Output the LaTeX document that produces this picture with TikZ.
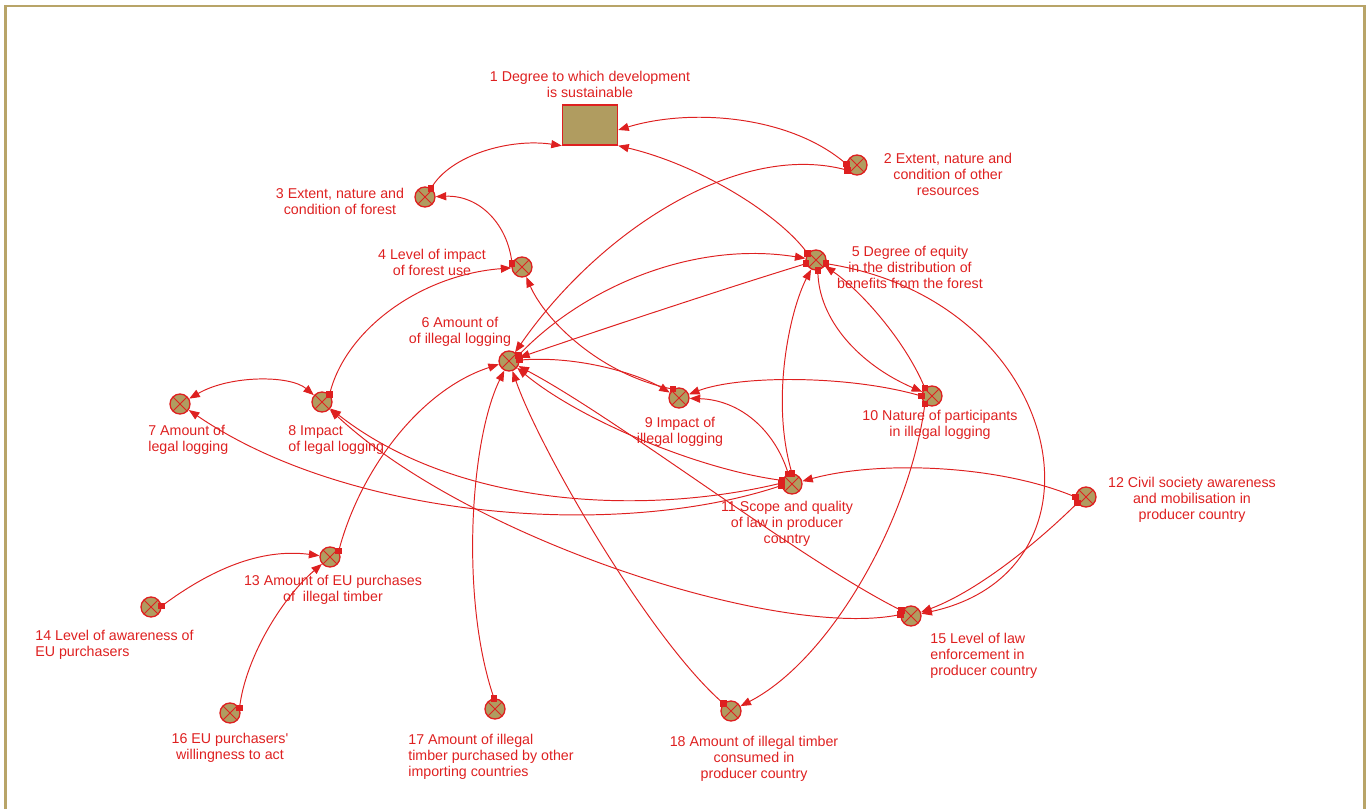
\documentclass[tikz,border=0pt]{standalone}
\usepackage{fontspec}
\setmainfont{Liberation Sans}
\usetikzlibrary{arrows.meta}
\definecolor{lred}{RGB}{222,32,32}
\definecolor{vfill}{RGB}{176,156,96}
\definecolor{framec}{RGB}{184,164,104}
\newcommand{\srcsq}[1]{\fill[lred] (#1) ++(-3.3,-3.3) rectangle ++(6.6,6.6);}
\begin{document}
\begin{tikzpicture}[x=0.02cm,y=-0.02cm,
 var/.style={circle,draw=lred,fill=vfill,line width=0.75pt,minimum size=0.4cm,inner sep=0pt,
   path picture={\draw[lred,line width=0.5pt] (path picture bounding box.north west)--(path picture bounding box.south east) (path picture bounding box.north east)--(path picture bounding box.south west);}},
 stock/.style={rectangle,draw=lred,fill=vfill,line width=0.8pt,minimum width=1.1cm,minimum height=0.8cm,inner sep=0pt},
 lbl/.style={text=lred,font=\fontsize{8.1}{9.1}\selectfont,align=center,inner sep=0pt},
 conn/.style={draw=lred,line width=0.55pt,-{Triangle[length=6pt,width=4.6pt]}},
 biconn/.style={draw=lred,line width=0.55pt,{Triangle[length=6pt,width=4.6pt]}-{Triangle[length=6pt,width=4.6pt]}}
]
\useasboundingbox (0,0) rectangle (1370,809);
\draw[framec,line width=1.3pt] (5.5,809) -- (5.5,6) -- (1364.5,6) -- (1364.5,809);

% nodes
\node[stock] (n1) at (590,125) {};
\node[var] (n2) at (857,165) {};
\node[var] (n3) at (425,197) {};
\node[var] (n4) at (522,267) {};
\node[var] (n5) at (816,260) {};
\node[var] (n6) at (509,361) {};
\node[var] (n7) at (180,404) {};
\node[var] (n8) at (322,402) {};
\node[var] (n9) at (679,398) {};
\node[var] (n10) at (932,396) {};
\node[var] (n11) at (792,484) {};
\node[var] (n12) at (1086,497) {};
\node[var] (n13) at (330,557) {};
\node[var] (n14) at (151,607) {};
\node[var] (n15) at (911,616) {};
\node[var] (n16) at (230,713) {};
\node[var] (n17) at (495,709) {};
\node[var] (n18) at (731,711) {};

% labels
\node[lbl] (l1) at (590,84) {1 Degree to which development\\is sustainable};
\node[lbl] (l2) at (948,174) {2 Extent, nature and\\condition of other\\resources};
\node[lbl] (l3) at (340,201) {3 Extent, nature and\\condition of forest};
\node[lbl] (l4) at (432,262) {4 Level of impact\\of forest use};
\node[lbl] (l5) at (910,267) {5 Degree of equity\\in the distribution of\\benefits from the forest};
\node[lbl] (l6) at (460,332) {6 Amount of\\of illegal logging};
\node[lbl,anchor=west,align=left] (l7) at (148,440) {7 Amount of\\legal logging};
\node[lbl,anchor=west,align=left] (l8) at (288,440) {8 Impact\\of legal logging};
\node[lbl] (l9) at (680,432) {9 Impact of\\illegal logging};
\node[lbl] (l10) at (940,425) {10 Nature of participants\\in illegal logging};
\node[lbl] (l11) at (787,524) {11 Scope and quality\\of law in producer\\country};
\node[lbl] (l12) at (1192,500) {12 Civil society awareness\\and mobilisation in\\producer country};
\node[lbl] (l13) at (333,590) {13 Amount of EU purchases\\of~ illegal timber};
\node[lbl,anchor=west,align=left] (l14) at (35,645) {14 Level of awareness of\\EU purchasers};
\node[lbl,anchor=west,align=left] (l15) at (930,656) {15 Level of law\\enforcement in\\producer country};
\node[lbl] (l16) at (230,748) {16 EU purchasers\textquotesingle\\willingness to act};
\node[lbl,anchor=west,align=left] (l17) at (408,757) {17 Amount of illegal\\timber purchased by other\\importing countries};
\node[lbl] (l18) at (754,759) {18 Amount of illegal timber\\consumed in\\producer country};

% connectors
\draw[conn] (n3.55) .. controls (450,155) and (510,138) .. (n1.south west);
\draw[conn] (n2.175) .. controls (790,115) and (690,108) .. (n1.-10);
\draw[conn] (n4.160) .. controls (508,225) and (480,195) .. (n3);
\draw[conn] (n5.142) .. controls (780,215) and (700,165) .. (n1.south east);
\draw[conn] (n2.210) .. controls (740,140) and (600,230) .. (n6);
\draw[conn] (n8.45) .. controls (345,330) and (420,275) .. (n4);
\draw[conn] (n6.30) .. controls (580,290) and (690,240) .. (n5);
\draw[conn] (n5.200) .. controls (720,290) and (600,330) .. (n6);
\draw[conn] (n6.5) .. controls (580,355) and (640,375) .. (n9);
\draw[conn] (n9.124) .. controls (600,375) and (545,320) .. (n4);
\draw[conn] (n10.180) .. controls (850,375) and (740,375) .. (n9);
\draw[conn] (n11.110) .. controls (775,430) and (740,400) .. (n9);
\draw[conn] (n5.280) .. controls (818,320) and (860,365) .. (n10);
\draw[conn] (n10.132) .. controls (905,340) and (860,290) .. (n5);
\draw[conn] (n11.90) .. controls (770,400) and (790,310) .. (n5);
\draw[conn] (n11.160) .. controls (700,470) and (580,420) .. (n6);
\draw[conn] (n11.175) .. controls (650,515) and (460,510) .. (n8);
\draw[conn] (n11.188) .. controls (620,540) and (350,520) .. (n7);
\draw[biconn] (n7) .. controls (230,375) and (290,375) .. (n8);
\draw[conn] (n13.35) .. controls (360,470) and (420,390) .. (n6);
\draw[conn] (n14.5) .. controls (210,570) and (260,548) .. (n13);
\draw[conn] (n16.27) .. controls (245,660) and (280,600) .. (n13);
\draw[conn] (n17.95) .. controls (460,600) and (470,440) .. (n6);
\draw[conn] (n18.135) .. controls (650,640) and (540,450) .. (n6);
\draw[conn] (n15.150) .. controls (800,560) and (620,420) .. (n6);
\draw[conn] (n15.172) .. controls (780,640) and (470,540) .. (n8);
\draw[conn] (n12.180) .. controls (1000,465) and (880,460) .. (n11);
\draw[conn] (n12.215) .. controls (1040,540) and (980,590) .. (n15);
\draw[conn] (n5.340) .. controls (1065,300) and (1120,570) .. (n15);
\draw[conn] (n10.228) .. controls (910,520) and (830,660) .. (n18);

% source squares
\srcsq{n3.55} \srcsq{n2.175} \srcsq{n2.210} \srcsq{n4.160} \srcsq{n5.142}
\srcsq{n8.45} \srcsq{n6.30} \srcsq{n5.200} \srcsq{n6.5} \srcsq{n9.124}
\srcsq{n10.180} \srcsq{n11.110} \srcsq{n5.280} \srcsq{n10.132} \srcsq{n11.90}
\srcsq{n11.160} \srcsq{n11.175} \srcsq{n11.188} \srcsq{n13.35} \srcsq{n14.5}
\srcsq{n16.27} \srcsq{n17.95} \srcsq{n18.135} \srcsq{n15.150} \srcsq{n15.172}
\srcsq{n12.180} \srcsq{n12.215} \srcsq{n5.340} \srcsq{n10.228}
\end{tikzpicture}
\end{document}
